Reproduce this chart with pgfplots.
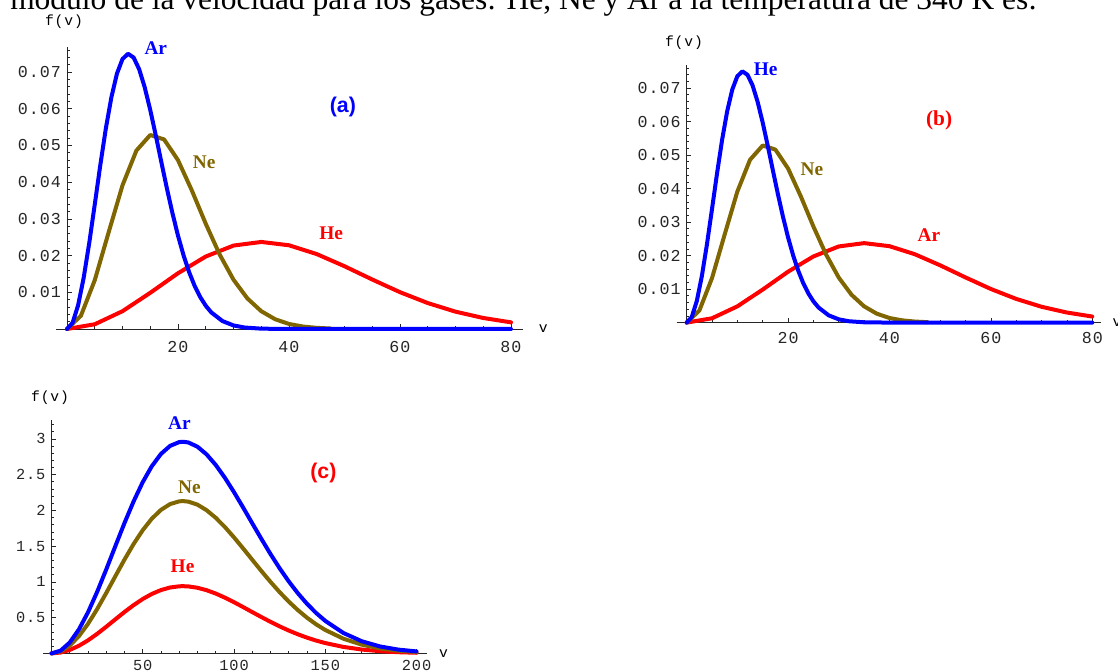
\documentclass[border=0pt]{standalone}
\usepackage{fontspec}
\setmainfont{Liberation Serif}
\newfontfamily\tickfont[LetterSpace=6]{Liberation Mono}
\newfontfamily\sansfont{Liberation Sans}
\usepackage{pgfplots}
\usepackage{pgfplotstable}
\pgfplotsset{compat=1.18}
\definecolor{mblue}{RGB}{0,0,255}
\definecolor{molive}{RGB}{128,102,0}
\definecolor{mred}{RGB}{255,0,0}

% Maxwell distributions, v_p = 11.07 (blue), 15.65 (olive), 35 (red)
\pgfplotstableread{
v f
0 0
1 0.00165
2 0.00644
3 0.01391
4 0.02336
5 0.03391
6 0.04464
7 0.05465
8 0.06315
9 0.06958
10 0.07356
11 0.07499
12 0.07397
13 0.07079
14 0.06587
15 0.05968
16 0.05273
17 0.04547
18 0.03831
19 0.03156
20 0.02544
21 0.02007
22 0.01551
23 0.01174
24 0.00871
25 0.00634
26 0.00452
28 0.00217
30 0.00097
32 0.00040
35 0.00009
40 0
80 0
}\tblue
\pgfplotstableread{
v f
0 0
2.5 0.00359
5 0.01329
7.5 0.02632
10 0.03914
12.5 0.04861
15 0.05286
17.5 0.05164
20 0.04600
22.5 0.03773
25 0.02868
27.5 0.02031
30 0.01343
32.5 0.00833
35 0.00485
37.5 0.00266
40 0.00137
42.5 0.00067
45 0.00031
47.5 0.00013
}\tolive
\pgfplotstableread{
v f
0 0
5 0.00129
10 0.00485
15 0.00986
20 0.01519
25 0.01975
30 0.02273
35 0.02372
40 0.02281
45 0.02041
50 0.01710
55 0.01348
60 0.01003
65 0.00707
70 0.00472
75 0.00300
80 0.00181
}\tred
\pgfplotstableread{
v ar ne he
0 0 0 0
5 0.0386 0.0278 0.0123
10 0.1523 0.1096 0.0484
15 0.3344 0.2406 0.1062
20 0.5747 0.4136 0.1825
25 0.8599 0.6188 0.2731
30 1.1743 0.8450 0.3729
35 1.5012 1.0802 0.4767
40 1.8240 1.3125 0.5792
45 2.1267 1.5304 0.6754
50 2.3957 1.7239 0.7608
55 2.6195 1.8850 0.8319
60 2.7902 2.0078 0.8861
65 2.9026 2.0887 0.9218
70 2.9554 2.1267 0.9385
72 2.9600 2.1300 0.9400
75 2.9499 2.1227 0.9368
80 2.8903 2.0799 0.9179
85 2.7828 2.0025 0.8837
90 2.6352 1.8963 0.8369
95 2.4564 1.7676 0.7801
100 2.2550 1.6227 0.7161
105 2.0402 1.4681 0.6479
110 1.8196 1.3094 0.5778
115 1.6011 1.1521 0.5085
120 1.3896 1.0000 0.4413
125 1.1905 0.8567 0.3781
130 1.0068 0.7245 0.3197
135 0.8410 0.6052 0.2671
140 0.6938 0.4992 0.2203
145 0.5652 0.4067 0.1795
150 0.4550 0.3274 0.1445
160 0.2848 0.2049 0.0904
170 0.1701 0.1224 0.0540
180 0.0971 0.0699 0.0308
190 0.0530 0.0381 0.0168
200 0.0276 0.0199 0.0088
}\tc

\newcommand\tkf{\tickfont\fontsize{12.5pt}{14pt}\selectfont}
\newcommand\tkfs{\tickfont\fontsize{11.5pt}{13pt}\selectfont}
\newcommand\axf{\tickfont\fontsize{11pt}{12pt}\selectfont}
\newcommand\lbf{\fontsize{14.5pt}{16pt}\selectfont\bfseries}

\pgfplotsset{mstyle/.style={
  axis lines=middle,
  axis line style={black!85, line width=0.6pt, -},
  tick align=inside,
  major tick length=3.5pt,
  minor tick length=2pt,
  every tick/.style={black!85, line width=0.5pt},
  ticklabel style={font=\tkf, text=black!85},
  yticklabel style={xshift=-1pt},
  scaled ticks=false,
  clip=false,
  anchor=origin,
  every axis plot/.append style={line width=3pt, line join=round, line cap=round},
}}

\begin{document}
\begin{tikzpicture}
\path[use as bounding box] (0,0) rectangle (838.5pt,503.25pt);

\node[anchor=base west, inner sep=0pt, font=\fontsize{23.6pt}{26pt}\selectfont] at (7.5pt,495.75pt)
  {módulo de la velocidad para los gases: He, Ne y Ar a la temperatura de 340 K es:};

% (a)
\begin{axis}[mstyle, at={(50.25pt,256.5pt)}, x=4.1625pt, y=2752.5pt,
  xmin=-1.9, xmax=82.2, ymin=-0.0005, ymax=0.0768,
  xticklabel style={yshift=-5.5pt},
  xtick={20,40,60,80}, xticklabels={20,40,60,80},
  ytick={0.01,0.02,0.03,0.04,0.05,0.06,0.07},
  yticklabels={0.01,0.02,0.03,0.04,0.05,0.06,0.07},
  minor xtick={5,10,...,80}, minor ytick={0.002,0.004,...,0.076}]
\addplot[mred] table[x=v,y=f] {\tred};
\addplot[molive] table[x=v,y=f] {\tolive};
\addplot[mblue] table[x=v,y=f] {\tblue};
\node[font=\lbf, text=mblue] at (axis cs:16.0,0.0766) {Ar};
\node[font=\lbf, text=molive] at (axis cs:24.7,0.0455) {Ne};
\node[font=\lbf, text=mred] at (axis cs:47.6,0.0262) {He};
\node[font=\sansfont\fontsize{16pt}{18pt}\selectfont\bfseries, text=mblue] at (axis cs:49.7,0.0605) {(a)};
\node[font=\axf] at (axis cs:-0.54,0.0837) {f(v)};
\node[font=\axf] at (axis cs:85.8,0) {v};
\end{axis}

% (b)
\begin{axis}[mstyle, at={(515.0pt,261.3pt)}, x=3.8025pt, y=2512.5pt,
  xmin=-2, xmax=81.8, ymin=-0.0005, ymax=0.0769,
  xticklabel style={yshift=-3.5pt},
  xtick={20,40,60,80}, xticklabels={20,40,60,80},
  ytick={0.01,0.02,0.03,0.04,0.05,0.06,0.07},
  yticklabels={0.01,0.02,0.03,0.04,0.05,0.06,0.07},
  minor xtick={5,10,...,80}, minor ytick={0.002,0.004,...,0.076}]
\addplot[mred] table[x=v,y=f] {\tred};
\addplot[molive] table[x=v,y=f] {\tolive};
\addplot[mblue] table[x=v,y=f] {\tblue};
\node[font=\lbf, text=mblue] at (axis cs:15.6,0.0757) {He};
\node[font=\lbf, text=molive] at (axis cs:24.7,0.0458) {Ne};
\node[font=\lbf, text=mred] at (axis cs:47.8,0.0261) {Ar};
\node[font=\fontsize{16pt}{18pt}\selectfont\bfseries, text=mred] at (axis cs:49.8,0.0605) {(b)};
\node[font=\axf] at (axis cs:-0.53,0.0835) {f(v)};
\node[font=\axf] at (axis cs:84.9,0) {v};
\end{axis}

% (c)
\begin{axis}[mstyle, at={(38.625pt,13.2pt)}, x=1.36875pt, y=53.625pt,
  xmin=-4.6, xmax=206, ymin=-0.02, ymax=3.27,
  ticklabel style={font=\tkfs},
  xticklabel style={yshift=-1.5pt},
  xtick={50,100,150,200}, xticklabels={50,100,150,200},
  ytick={0.5,1,1.5,2,2.5,3}, yticklabels={0.5,1,1.5,2,2.5,3},
  minor xtick={10,20,...,200}, minor ytick={0.1,0.2,...,3.2}]
\addplot[mred] table[x=v,y=he] {\tc};
\addplot[molive] table[x=v,y=ne] {\tc};
\addplot[mblue] table[x=v,y=ar] {\tc};
\node[font=\lbf, text=mblue] at (axis cs:70.1,3.22) {Ar};
\node[font=\lbf, text=molive] at (axis cs:75.6,2.33) {Ne};
\node[font=\lbf, text=mred] at (axis cs:71.8,1.22) {He};
\node[font=\sansfont\fontsize{16pt}{18pt}\selectfont\bfseries, text=mred] at (axis cs:149,2.52) {(c)};
\node[font=\axf] at (axis cs:-0.8,3.572) {f(v)};
\node[font=\axf] at (axis cs:214.8,0) {v};
\end{axis}
\end{tikzpicture}
\end{document}
